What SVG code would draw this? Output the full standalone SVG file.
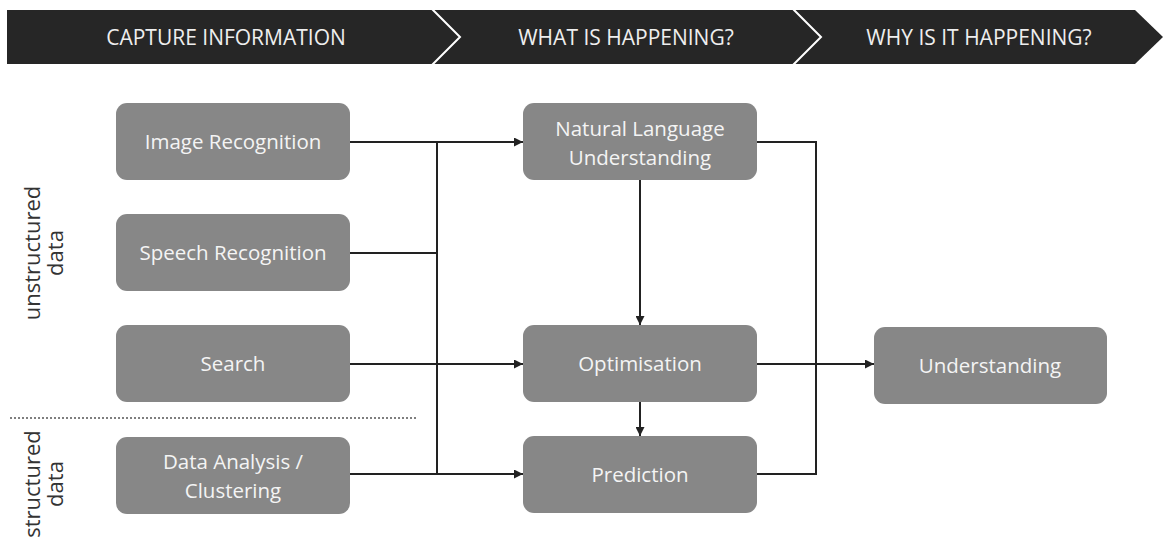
<svg xmlns="http://www.w3.org/2000/svg" width="1163" height="539" viewBox="0 0 1163 539">
<style>
.node rect{fill:#878787;}
.node text{font-family:"Open Sans","Liberation Sans",sans-serif;font-size:20.5px;fill:#f4f4f4;text-anchor:middle;}
.hdr{font-family:"Open Sans","Liberation Sans",sans-serif;font-size:21px;fill:#eeeeee;text-anchor:middle;}
.side{font-family:"Open Sans","Liberation Sans",sans-serif;font-size:22px;fill:#333;text-anchor:middle;}
.conn{fill:none;stroke:#222;stroke-width:2;}
</style>
<defs>
<marker id="arr" viewBox="0 0 10 10" refX="10" refY="5" markerWidth="9" markerHeight="9" markerUnits="userSpaceOnUse" orient="auto">
<path d="M0,0 L10,5 L0,10 z" fill="#222"/>
</marker>
</defs>
<rect width="1163" height="539" fill="#ffffff"/>
<g id="header">
<path d="M7,10 H1135 L1163,37 L1135,64 H7 Z" fill="#262626"/>
<path d="M432,9 L460,37 L432,65" fill="none" stroke="#ffffff" stroke-width="2"/>
<path d="M793,9 L821,37 L793,65" fill="none" stroke="#ffffff" stroke-width="2"/>
<text class="hdr" x="226" y="45">CAPTURE INFORMATION</text>
<text class="hdr" x="626" y="45">WHAT IS HAPPENING?</text>
<text class="hdr" x="979" y="45">WHY IS IT HAPPENING?</text>
</g>
<g id="labels">
<text class="side" transform="rotate(-90)"><tspan x="-253" y="40">unstructured</tspan><tspan x="-253" y="63">data</tspan></text>
<text class="side" transform="rotate(-90)"><tspan x="-484" y="40">structured</tspan><tspan x="-484" y="63">data</tspan></text>
<line x1="10" y1="418" x2="416" y2="418" stroke="#555" stroke-width="1.5" stroke-dasharray="2,2"/>
</g>
<g id="connectors">
<path class="conn" d="M350,142 H523" marker-end="url(#arr)"/>
<path class="conn" d="M437,142 V474"/>
<path class="conn" d="M350,253 H437"/>
<path class="conn" d="M350,364 H523" marker-end="url(#arr)"/>
<path class="conn" d="M350,474 H523" marker-end="url(#arr)"/>
<path class="conn" d="M640,180 V325" marker-end="url(#arr)"/>
<path class="conn" d="M640,402 V436" marker-end="url(#arr)"/>
<path class="conn" d="M757,142 H816 V474 H757"/>
<path class="conn" d="M757,364 H874" marker-end="url(#arr)"/>
</g>
<g id="image-recognition" class="node"><rect x="116" y="103" width="234" height="77" rx="11"/><text x="233" y="149">Image Recognition</text></g>
<g id="speech-recognition" class="node"><rect x="116" y="214" width="234" height="77" rx="11"/><text x="233" y="260">Speech Recognition</text></g>
<g id="search" class="node"><rect x="116" y="325" width="234" height="77" rx="11"/><text x="233" y="371">Search</text></g>
<g id="data-analysis" class="node"><rect x="116" y="437" width="234" height="77" rx="11"/><text x="233" y="469">Data Analysis /</text><text x="233" y="498">Clustering</text></g>
<g id="nlu" class="node"><rect x="523" y="103" width="234" height="77" rx="11"/><text x="640" y="136">Natural Language</text><text x="640" y="165">Understanding</text></g>
<g id="optimisation" class="node"><rect x="523" y="325" width="234" height="77" rx="11"/><text x="640" y="371">Optimisation</text></g>
<g id="prediction" class="node"><rect x="523" y="436" width="234" height="77" rx="11"/><text x="640" y="482">Prediction</text></g>
<g id="understanding" class="node"><rect x="874" y="327" width="233" height="77" rx="11"/><text x="990" y="373">Understanding</text></g>
</svg>
